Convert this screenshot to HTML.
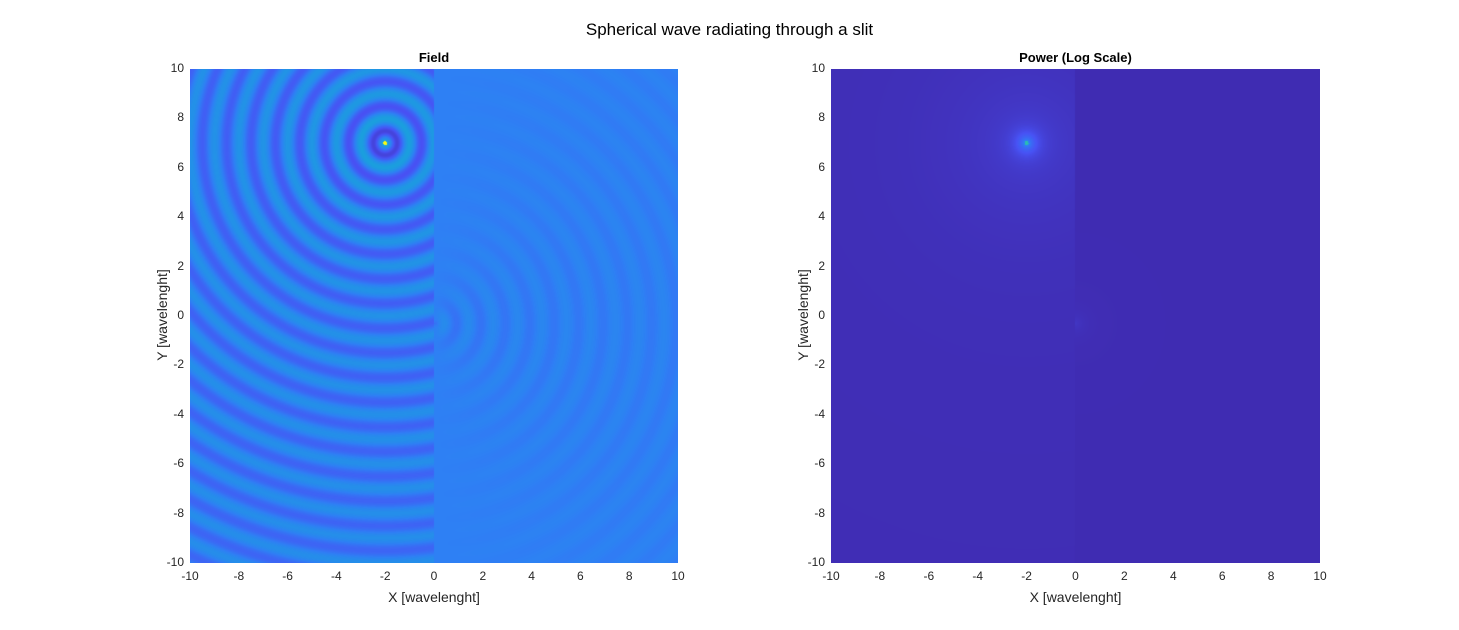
<!DOCTYPE html>
<html><head><meta charset="utf-8"><style>
body{margin:0;background:#fff;width:1459px;height:630px;overflow:hidden;font-family:"Liberation Sans",Arial,sans-serif;position:relative}
.t{position:absolute;font-size:12px;color:#262626;white-space:nowrap}
canvas{position:absolute}
</style></head><body>
<div class="t" style="left:0;width:1459px;text-align:center;top:20px;font-size:17px;color:#000">Spherical wave radiating through a slit</div>
<canvas id="c1" width="488" height="494" style="left:190px;top:69px"></canvas>
<canvas id="c2" width="489" height="494" style="left:831px;top:69px"></canvas>
<div id="labels"></div>
<script>
const source=[-2,7];        // source position (wavelengths)
const slit=[0,-0.3];        // slit position
const xTicks=[-10,-8,-6,-4,-2,0,2,4,6,8,10];
const yTicks=[-10,-8,-6,-4,-2,0,2,4,6,8,10];
const panels=[
 {id:'c1',title:'Field',left:190,w:488,name:'field'},
 {id:'c2',title:'Power (Log Scale)',left:831,w:489,name:'power'}];
const top0=69,H=494;
const stops=[[0,[62,38,168]],[0.125,[72,82,244]],[0.25,[46,128,244]],[0.375,[26,160,221]],[0.5,[20,181,196]],[0.625,[79,202,147]],[0.75,[171,198,87]],[0.875,[253,190,61]],[1,[249,251,20]]];
function cmap(t){t=Math.max(0,Math.min(1,t));for(let i=1;i<stops.length;i++){if(t<=stops[i][0]){const a=stops[i-1],b=stops[i],f=(t-a[0])/(b[0]-a[0]);return a[1].map((v,k)=>v+(b[1][k]-v)*f);}}return stops[8][1];}
function field(x,y){
 if(x<0){const r=Math.hypot(x-source[0],y-source[1]);if(r<0.08)return 1;
  return 0.24+0.13*Math.cos(2*Math.PI*r)/Math.pow(Math.max(r,0.4),0.25);}
 const r0=Math.hypot(slit[0]-source[0],slit[1]-source[1]);
 const rs=Math.hypot(x-slit[0],y-slit[1]);const c=x/(rs+1e-6);
 return 0.25+0.045*c*Math.cos(2*Math.PI*(rs+r0))/Math.pow(rs+0.6,0.35);}
function power(x,y){
 if(x<0){const r=Math.hypot(x-source[0],y-source[1]);if(r<0.08)return 0.55;
  return 0.02+0.25*Math.exp(-r/0.3)+0.04*Math.exp(-r/2.2)+0.01*Math.exp(-r/8);}
 const rs=Math.hypot(x-slit[0],y-slit[1]);return 0.017+0.025*Math.exp(-rs/0.3)+0.006*Math.exp(-rs/1.2);}
panels.forEach((p,pi)=>{
 const cv=document.getElementById(p.id),ctx=cv.getContext('2d'),img=ctx.createImageData(p.w,H);
 for(let j=0;j<H;j++)for(let i=0;i<p.w;i++){
  const x=-10+20*(i+0.5)/p.w,y=10-20*(j+0.5)/H;
  const col=cmap(pi==0?field(x,y):power(x,y));const k=(j*p.w+i)*4;
  img.data[k]=col[0];img.data[k+1]=col[1];img.data[k+2]=col[2];img.data[k+3]=255;}
 ctx.putImageData(img,0,0);
 const L=document.getElementById('labels');
 function add(txt,css,name){const d=document.createElement('div');d.className='t';d.textContent=txt;d.style.cssText=css;
  
  
  L.appendChild(d);return d;}
 add(p.title,`left:${p.left}px;width:${p.w}px;text-align:center;top:50px;font-weight:bold;font-size:13px;color:#000`,p.name+'-title');
 xTicks.forEach(v=>{const px=p.left+(v+10)/20*p.w;add(String(v),`left:${px-20}px;width:40px;text-align:center;top:569px`,p.name+'-x-tick');});
 yTicks.forEach(v=>{const py=top0+(10-v)/20*H;add(String(v),`left:${p.left-46}px;width:40px;text-align:right;top:${py-8}px`,p.name+'-y-tick');});
 add('X [wavelenght]',`left:${p.left}px;width:${p.w}px;text-align:center;top:589px;font-size:14px`,p.name+'-x-axis-title');
 add('Y [wavelenght]',`left:${p.left-78}px;width:100px;text-align:center;top:${top0+H/2-9}px;font-size:14px;transform:rotate(-90deg)`,p.name+'-y-axis-title');
});
</script>
</body></html>
